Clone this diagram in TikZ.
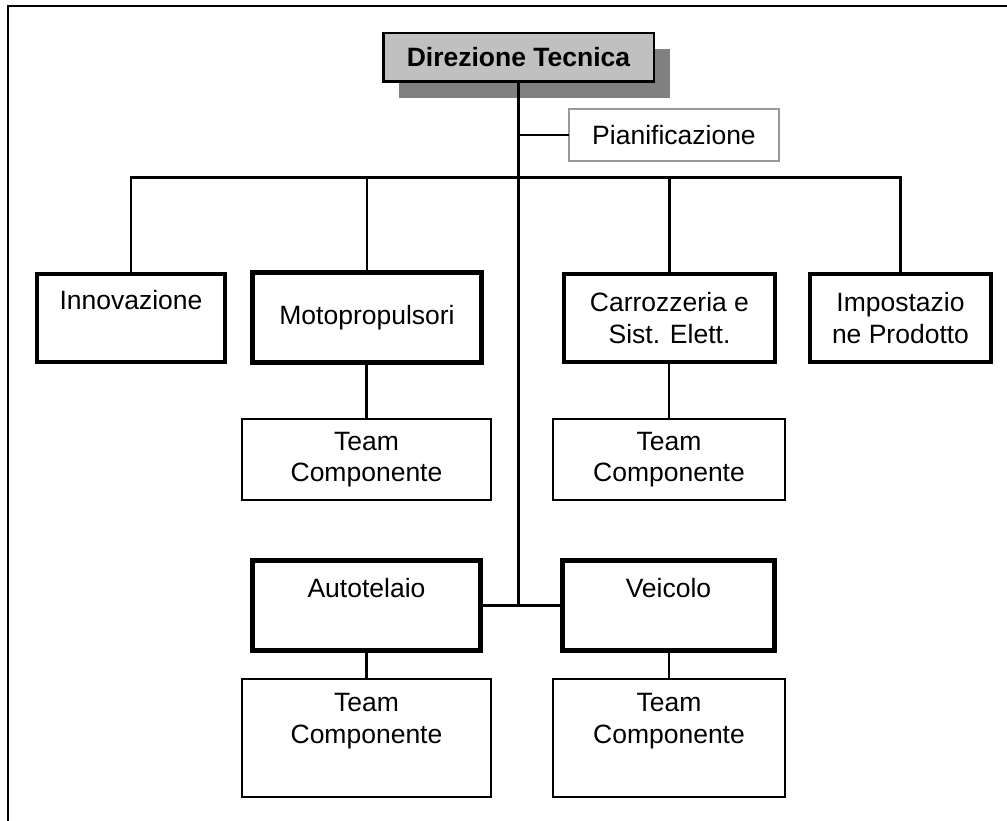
\documentclass[tikz,border=0pt]{standalone}
\usepackage{fontspec}
\setmainfont[Ligatures=NoCommon]{Liberation Sans}
\usetikzlibrary{shadows}
\definecolor{headfill}{HTML}{C0C0C0}
\definecolor{headshadow}{HTML}{808080}
\definecolor{staffline}{HTML}{999999}

\begin{document}
\begin{tikzpicture}[x=1pt,y=-1pt,
  every node/.style={font=\fontsize{26.5}{31.5}\selectfont, align=center,
    inner sep=0pt, outer sep=0pt},
  unitbox/.style={draw, line width=4pt, rectangle},
  heavybox/.style={draw, line width=5pt, rectangle},
  teambox/.style={draw, line width=1.7pt, rectangle},
  link/.style={line width=2.1pt},
  spine/.style={line width=2.9pt}]

\useasboundingbox (0,0) rectangle (1007,821);

% page frame (top and left edges)
\draw[line width=1.9pt] (8,821) -- (8,6) -- (1007,6);

% head of the organisation
\node[draw, line width=2.5pt, fill=headfill, minimum width=270.5pt, minimum height=48.5pt,
  font=\fontsize{26.5}{31.5}\selectfont\bfseries,
  drop shadow={shadow xshift=16pt, shadow yshift=-16pt, fill=headshadow, opacity=1}]
  (dir) at (518.5,57.5) {Direzione Tecnica};

% staff function
\node[draw=staffline, line width=2pt, minimum width=210pt, minimum height=52pt]
  (plan) at (674,135) {Pianificazione};

% first line of departments
\node[unitbox, minimum width=188pt, minimum height=88pt] (innov) at (131,318) {};
\node (innovt) at (131,300) {Innovazione};
\node[heavybox, minimum width=229pt, minimum height=90pt] (motop) at (367,317.5) {Motopropulsori};
\node[unitbox, minimum width=211pt, minimum height=88pt] (carr) at (669.5,318) {Carrozzeria e\\Sist. Elett.};
\node[unitbox, minimum width=181pt, minimum height=88pt] (impost) at (900.5,318) {Impostazio\\ne Prodotto};

% component teams
\node[teambox, minimum width=249.5pt, minimum height=81.5pt] (team1) at (366.5,459.5) {Team\\Componente};
\node[teambox, minimum width=232.5pt, minimum height=81.5pt] (team2) at (669,459.5) {Team\\Componente};

% second line of departments
\node[heavybox, minimum width=228pt, minimum height=90pt] (auto) at (366.5,605.5) {};
\node (autot) at (366.5,588) {Autotelaio};
\node[heavybox, minimum width=212pt, minimum height=90pt] (veic) at (668.5,605.5) {};
\node (veict) at (668.5,588) {Veicolo};

\node[teambox, minimum width=249.5pt, minimum height=118.5pt] (team3) at (366.5,738) {};
\node (team3t) at (366.5,721) {Team\\Componente};
\node[teambox, minimum width=232.5pt, minimum height=118.5pt] (team4) at (669,738) {};
\node (team4t) at (669,721) {Team\\Componente};

% connectors
\coordinate (bus) at (518.5,177.5);
\coordinate (junc) at (518.5,605.5);

\draw[spine] (dir.south) -- (junc);
\draw[link] (dir.south |- plan.west) -- (plan.west);
\draw[link] (innov.north) -- (innov.north |- bus) -- (impost.north |- bus) -- (impost.north);
\draw[link] (motop.north |- bus) -- (motop.north);
\draw[link] (carr.north |- bus) -- (carr.north);
\draw[link] (team1.north |- motop.south) -- (team1.north);
\draw[link] (team2.north |- carr.south) -- (team2.north);
\draw[link] (auto.east) -- (veic.west);
\draw[link] (team3.north |- auto.south) -- (team3.north);
\draw[link] (team4.north |- veic.south) -- (team4.north);
\end{tikzpicture}
\end{document}
